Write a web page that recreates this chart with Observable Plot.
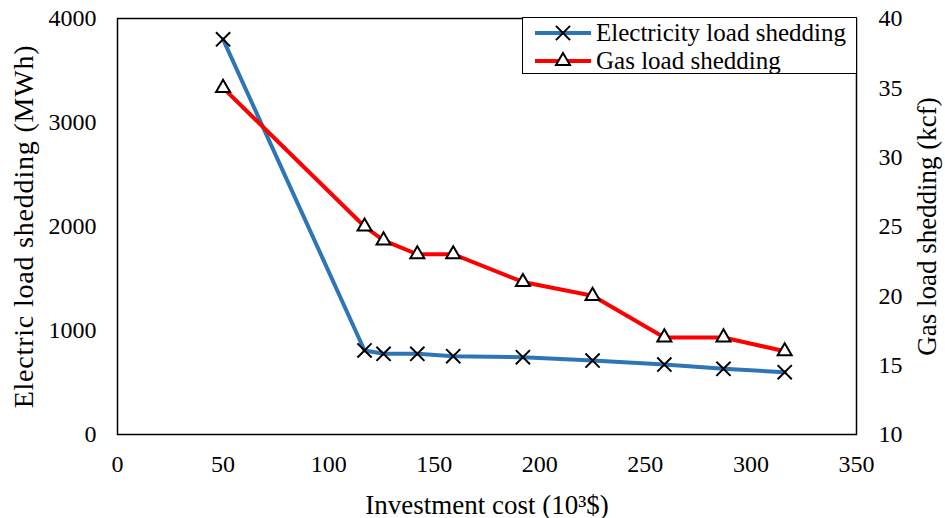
<!DOCTYPE html>
<html><head><meta charset="utf-8">
<script src="https://cdn.jsdelivr.net/npm/d3@7"></script>
<script src="https://cdn.jsdelivr.net/npm/@observablehq/plot@0.6"></script>
<style>
body{margin:0;background:#fff;font-family:"Liberation Serif","Times New Roman",serif;}
#wrap{position:relative;width:945px;height:518px;}
#wrap svg text{font-family:"Liberation Serif","Times New Roman",serif;font-variant-numeric:normal;}
#legend{position:absolute;left:522px;top:17px;width:335px;height:57px;border:1.5px solid #000;background:#fff;box-sizing:border-box;font-size:25px;color:#000;}
.row{position:absolute;left:0;height:28px;width:100%;}
.row svg{position:absolute;left:10px;top:0;}
.row span{position:absolute;left:73px;top:0px;line-height:28px;white-space:nowrap;}
</style></head>
<body><div id="wrap"></div>
<script>
const investment = [50, 117, 126, 142, 159, 192, 225, 259, 287, 316];
const electricity = [3800, 808, 776, 776, 753, 743, 711, 673, 632, 599];
const gas = [35, 25, 24, 23, 23, 21, 20, 17, 17, 16];
const xTicks = [0, 50, 100, 150, 200, 250, 300, 350];
const leftTicks = [0, 1000, 2000, 3000, 4000];
const rightTicks = [10, 15, 20, 25, 30, 35, 40];
const seriesNames = ["Electricity load shedding", "Gas load shedding"];
const colors = ["#2E75B6", "#FF0000"];

const toLeft = g => (g - 10) * 4000 / 30;
const fromLeft = v => Math.round(v * 30 / 4000 + 10);
const elecData = investment.map((x, i) => ({x, y: electricity[i]}));
const gasData = investment.map((x, i) => ({x, y: toLeft(gas[i])}));

const font = '"Liberation Serif","Times New Roman",serif';
const chart = Plot.plot({
  width: 945, height: 518,
  marginLeft: 117, marginRight: 89, marginTop: 18, marginBottom: 84,
  style: {fontFamily: font, fontSize: "24px", color: "#000", background: "#fff"},
  x: {domain: [0, 350]},
  y: {domain: [0, 4000]},
  marks: [
    Plot.axisX(xTicks, {tickSize: 0, tickPadding: 20, fontSize: 24, tickFormat: d => String(d), label: null}),
    Plot.axisX(xTicks, {tickSize: 0, tickPadding: 20, fontSize: 27, tickFormat: () => "", label: "Investment cost (10³$)", labelAnchor: "center", labelOffset: 79, labelArrow: "none"}),
    Plot.axisY(leftTicks, {anchor: "left", tickSize: 0, tickPadding: 21, fontSize: 24, tickFormat: d => String(d), label: null}),
    Plot.axisY(leftTicks, {anchor: "left", tickSize: 0, tickPadding: 21, fontSize: 28, tickFormat: () => "", label: "Electric load shedding (MWh)", labelAnchor: "center", labelOffset: 104, labelArrow: "none"}),
    Plot.axisY(rightTicks.map(toLeft), {anchor: "right", tickSize: 0, tickPadding: 22, fontSize: 24, tickFormat: d => String(fromLeft(d)), label: null}),
    Plot.axisY(rightTicks.map(toLeft), {anchor: "right", tickSize: 0, tickPadding: 22, fontSize: 27, tickFormat: () => "", label: "Gas load shedding (kcf)", labelAnchor: "center", labelOffset: 79, labelArrow: "none"}),
    Plot.frame({stroke: "#000", strokeWidth: 1.5}),
    Plot.line(elecData, {x: "x", y: "y", stroke: colors[0], strokeWidth: 4}),
    Plot.line(gasData, {x: "x", y: "y", stroke: colors[1], strokeWidth: 4}),
    Plot.dot(elecData, {x: "x", y: "y", symbol: "times", r: 6.5, stroke: "#000", strokeWidth: 2}),
    Plot.dot(gasData, {x: "x", y: "y", symbol: "triangle", r: 5.2, stroke: "#000", fill: "#fff", strokeWidth: 2})
  ]
});
const wrap = document.getElementById("wrap");
wrap.appendChild(chart);
chart.querySelectorAll("text").forEach(t => {
  if (t.textContent.startsWith("Electric load")) t.style.letterSpacing = "0.8px";
});

const legend = document.createElement("div");
legend.id = "legend";
const symbols = ["times", "triangle"];
seriesNames.forEach((name, i) => {
  const row = document.createElement("div");
  row.className = "row";
  row.style.top = (1 + i * 28) + "px";
  const s = d3.create("svg").attr("width", 60).attr("height", 28);
  s.append("line").attr("x1", 2).attr("x2", 58).attr("y1", 14).attr("y2", 14).attr("stroke", colors[i]).attr("stroke-width", 4);
  const sym = symbols[i] === "times" ? d3.symbolTimes : d3.symbolTriangle;
  const size = symbols[i] === "times" ? Math.PI * 6.5 * 6.5 : Math.PI * 5.2 * 5.2;
  s.append("path").attr("d", d3.symbol(sym, size)()).attr("transform", "translate(30,14)")
    .attr("stroke", "#000").attr("stroke-width", 2).attr("fill", symbols[i] === "times" ? "none" : "#fff");
  row.appendChild(s.node());
  const t = document.createElement("span");
  t.textContent = name;
  row.appendChild(t);
  legend.appendChild(row);
});
wrap.appendChild(legend);
</script>
</body></html>
